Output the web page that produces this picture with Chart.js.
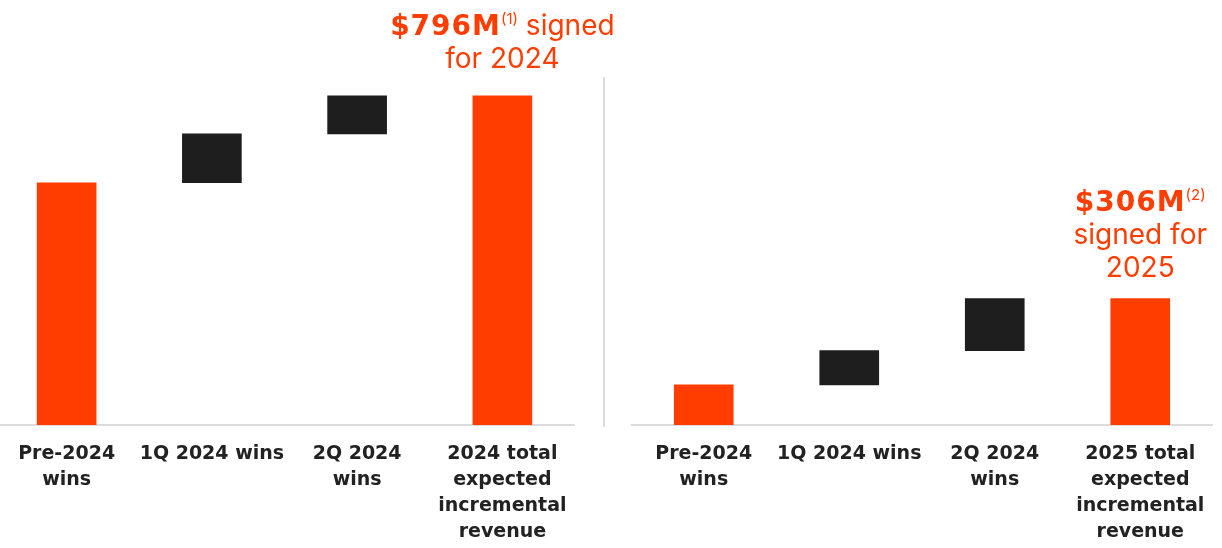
<!DOCTYPE html>
<html>
<head>
<meta charset="utf-8">
<script src="https://cdn.jsdelivr.net/npm/chart.js@4/dist/chart.umd.min.js"></script>
<style>
  html, body { margin: 0; padding: 0; background: #fff; }
  body { width: 1222px; height: 548px; position: relative; overflow: hidden; font-family: Inter, "Open Sans", sans-serif; }
  .panel { position: absolute; top: 0; height: 548px; }
  .divider { position: absolute; left: 603px; top: 77px; width: 2px; height: 350px; background: #dcdcdc; }
  .note { position: absolute; color: #FF3D00; font-size: 28px; line-height: 33px; text-align: center; white-space: nowrap; transform: translateX(-50%); }
  .note b { font-family: "DejaVu Sans", sans-serif; font-weight: 700; font-size: 28px; letter-spacing: 1px; }
  .note sup { font-size: 15px; line-height: 0; vertical-align: 11px; }
</style>
</head>
<body>
<div class="panel" id="panel24" style="left:-6px;width:581px;"><canvas id="chart24"></canvas></div>
<div class="divider"></div>
<div class="panel" id="panel25" style="left:631px;width:582px;"><canvas id="chart25"></canvas></div>
<div class="note" id="note24"><b>$796M</b><sup>(1)</sup> signed<br>for 2024</div>
<div class="note" id="note25"><b>$306M</b><sup>(2)</sup><br>signed for<br>2025</div>

<script>
// Data ($M)
const labels24 = [['Pre-2024', 'wins'], '1Q 2024 wins', ['2Q 2024', 'wins'], ['2024 total', 'expected', 'incremental', 'revenue']];
const steps24 = [586, 118, 92];      // total 796

const labels25 = [['Pre-2024', 'wins'], '1Q 2024 wins', ['2Q 2024', 'wins'], ['2025 total', 'expected', 'incremental', 'revenue']];
const steps25 = [97, 83, 126];       // total 306

const ORANGE = '#FF3D00';
const DARK = '#1E1E1E';
const barColors = [ORANGE, DARK, DARK, ORANGE];

// turn step values into floating [start, end] bars plus a total bar
function waterfall(steps) {
    let run = 0;
    const bars = steps.map(v => { const b = [run, run + v]; run += v; return b; });
    bars.push([0, run]);
    return bars;
}

function makeChart(canvasId, labels, steps, noteId, gap) {
    const note = document.getElementById(noteId);
    const panel = document.getElementById(canvasId).parentNode;

    const placeNote = {
        id: 'placeNote',
        afterRender(chart) {
            const bar = chart.getDatasetMeta(0).data[3];
            note.style.left = (panel.offsetLeft + bar.x) + 'px';
            note.style.top = (bar.y - gap - note.offsetHeight) + 'px';
        }
    };

    return new Chart(document.getElementById(canvasId), {
        type: 'bar',
        data: {
            labels: labels,
            datasets: [{
                data: waterfall(steps),
                backgroundColor: barColors,
                borderWidth: 0,
                barThickness: 59
            }]
        },
        options: {
            responsive: true,
            maintainAspectRatio: false,
            animation: false,
            layout: { padding: 0 },
            plugins: { legend: { display: false }, tooltip: { enabled: false } },
            scales: {
                x: {
                    grid: { display: false, drawTicks: false },
                    border: { color: '#dcdcdc', width: 2 },
                    ticks: {
                        color: '#222',
                        font: { family: 'DejaVu Sans', size: 19, weight: '700', lineHeight: 1.37 },
                        padding: 16,
                        maxRotation: 0,
                        autoSkip: false
                    },
                    afterFit(scale) {
                        // fixed axis band, and let wide labels overhang the edges
                        scale.height = 123;
                        scale.paddingLeft = 0;
                        scale.paddingRight = 0;
                    }
                },
                y: { display: false, min: 0, max: 1028 }
            }
        },
        plugins: [placeNote]
    });
}

makeChart('chart24', labels24, steps24, 'note24', 21);
makeChart('chart25', labels25, steps25, 'note25', 14);
</script>
</body>
</html>
